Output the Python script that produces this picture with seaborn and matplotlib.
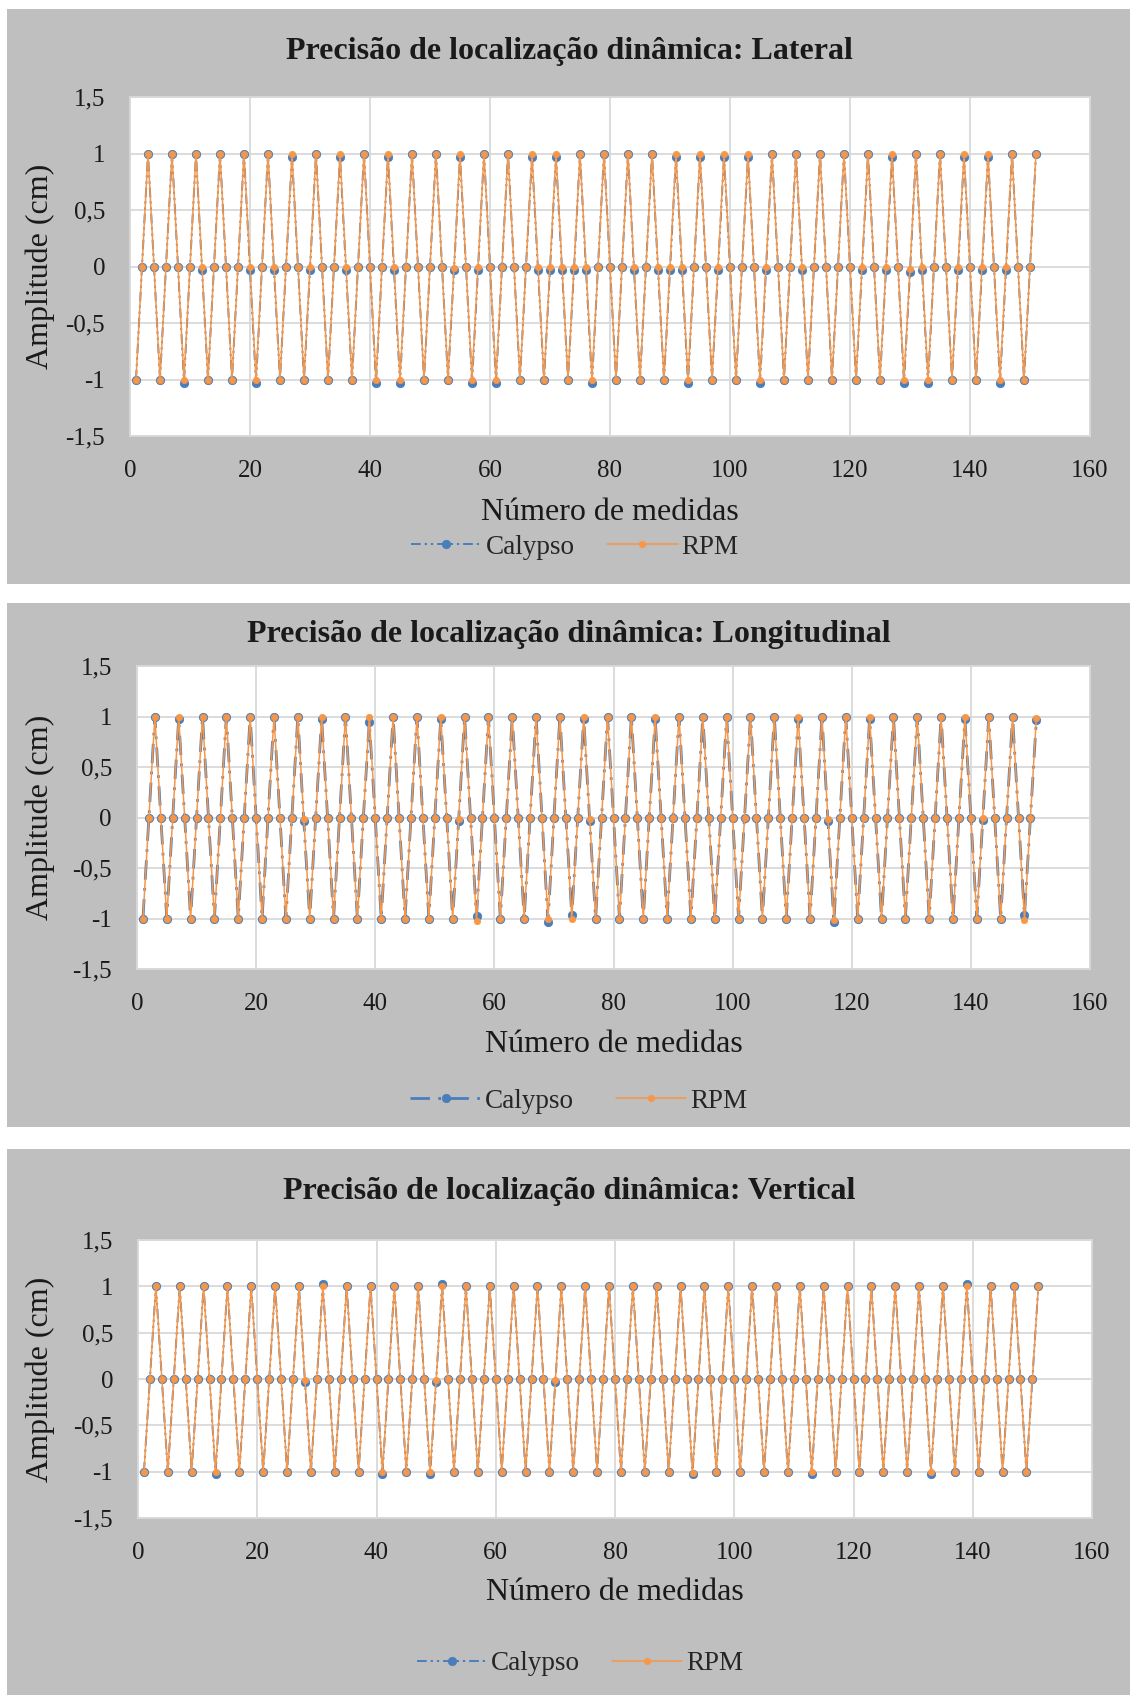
import numpy as np
import pandas as pd
import matplotlib
matplotlib.use('Agg')
import matplotlib.pyplot as plt
from matplotlib.patches import Rectangle
import seaborn as sns

# 数据：测量序号 1..151
medidas = list(range(1, 152))

lateral_calypso = [
    -1, 0, 1, 0, -1, 0, 1, 0, -1.03, 0, 1, -0.03, -1, 0, 1, 0, -1, 0, 1, -0.03,
    -1.03, 0, 1, -0.03, -1, 0, 0.97, 0, -1, -0.03, 1, 0, -1, 0, 0.97, -0.03, -1, 0, 1, 0,
    -1.03, 0, 0.97, -0.03, -1.03, 0, 1, 0, -1, 0, 1, 0, -1, -0.03, 0.97, 0, -1.03, -0.03, 1, 0,
    -1.03, 0, 1, 0, -1, 0, 0.97, -0.03, -1, -0.03, 0.97, -0.03, -1, -0.03, 1, -0.03, -1.03, 0, 1, 0,
    -1, 0, 1, -0.03, -1, 0, 1, -0.03, -1, -0.03, 0.97, -0.03, -1.03, 0, 0.97, 0, -1, -0.03, 0.97, 0,
    -1, 0, 0.97, 0, -1.03, -0.03, 1, 0, -1, 0, 1, -0.03, -1, 0, 1, 0, -1, 0, 1, 0,
    -1, -0.03, 1, 0, -1, -0.03, 0.97, 0, -1.03, -0.05, 1, -0.03, -1.03, 0, 1, 0, -1, -0.03, 0.97, 0,
    -1, -0.03, 0.97, 0, -1.03, -0.03, 1, 0, -1, 0, 1,
]
lateral_rpm = [
    -1, 0, 1, 0, -1, 0, 1, 0, -1, 0, 1, 0, -1, 0, 1, 0, -1, 0, 1, 0,
    -1, 0, 1, 0, -1, 0, 1, 0, -1, 0, 1, 0, -1, 0, 1, 0, -1, 0, 1, 0,
    -1, 0, 1, 0, -1, 0, 1, 0, -1, 0, 1, 0, -1, -0.01, 1, 0, -1, 0, 1, 0,
    -1, 0, 1, 0, -1, 0, 1, 0, -1, 0, 1, 0, -1, 0, 1, 0, -1, 0, 1, 0,
    -1, 0, 1, 0, -1, 0, 1, 0, -1, 0, 1, 0, -1, 0, 1, 0, -1, 0, 1, 0,
    -1, 0, 1, 0, -1, 0, 1, 0, -1, 0, 1, 0, -1, 0, 1, 0, -1, 0, 1, 0,
    -1, 0, 1, 0, -1, 0, 1, 0, -1, -0.02, 1, 0, -1, 0, 1, 0, -1, 0, 1, 0,
    -1, 0, 1, 0, -1, 0, 1, 0, -1, 0, 1,
]

longitudinal_calypso = [
    -1, 0, 1, 0, -1, 0, 0.98, 0, -1, 0, 1, 0, -1, 0, 1, 0, -1, 0, 1, 0,
    -1, 0, 1, 0, -1, 0, 1, -0.03, -1, 0, 0.98, 0, -1, 0, 1, 0, -1, 0, 0.95, 0,
    -1, 0, 1, 0, -1, 0, 1, 0, -1, 0, 0.98, 0, -1, -0.03, 1, 0, -0.98, 0, 1, 0,
    -1, 0, 1, 0, -1, 0, 1, 0, -1.03, 0, 1, 0, -0.97, 0, 0.98, -0.03, -1, 0, 1, 0,
    -1, 0, 1, 0, -1, 0, 0.98, 0, -1, 0, 1, 0, -1, 0, 1, 0, -1, 0, 1, 0,
    -1, 0, 1, 0, -1, 0, 1, 0, -1, 0, 0.98, 0, -1, 0, 1, -0.03, -1.03, 0, 1, 0,
    -1, 0, 0.98, 0, -1, 0, 1, 0, -1, 0, 1, 0, -1, 0, 1, 0, -1, 0, 0.98, 0,
    -1, -0.02, 1, 0, -1, 0, 1, 0, -0.97, 0, 0.97,
]
longitudinal_rpm = [
    -1, 0, 1, 0, -1, 0, 1, 0, -1, 0, 1, 0, -1, 0, 1, 0, -1, 0, 1, 0,
    -1, 0, 1, 0, -1, 0, 1, -0.01, -1, 0, 1, 0, -1, 0, 1, 0, -1, 0, 1, 0,
    -1, 0, 1, 0, -1, 0, 1, 0, -1, 0, 1, 0, -1, -0.01, 1, 0, -1.02, 0, 1, 0,
    -1, 0, 1, 0, -1, 0, 1, 0, -1, 0, 1, 0, -1, 0, 1, -0.01, -1, 0, 1, 0,
    -1, 0, 1, 0, -1, 0, 1, 0, -1, 0, 1, 0, -1, 0, 1, 0, -1, 0, 1, 0,
    -1, 0, 1, 0, -1, 0, 1, 0, -1, 0, 1, 0, -1, 0, 1, -0.01, -1.01, 0, 1, 0,
    -1, 0, 1, 0, -1, 0, 1, 0, -1, 0, 1, 0, -1, 0, 1, 0, -1, 0, 1, 0,
    -1, 0, 1, 0, -1, 0, 1, 0, -1.01, 0, 0.99,
]

vertical_calypso = [
    -1, 0, 1, 0, -1, 0, 1, 0, -1, 0, 1, 0, -1.03, 0, 1, 0, -1, 0, 1, 0,
    -1, 0, 1, 0, -1, 0, 1, -0.03, -1, 0, 1.02, 0, -1, 0, 1, 0, -1, 0, 1, 0,
    -1.02, 0, 1, 0, -1, 0, 1, 0, -1.03, -0.03, 1.02, 0, -1, 0, 1, 0, -1, 0, 1, 0,
    -1, 0, 1, 0, -1, 0, 1, 0, -1, -0.03, 1, 0, -1, 0, 1, 0, -1, 0, 1, 0,
    -1, 0, 1, 0, -1, 0, 1, 0, -1, 0, 1, 0, -1.02, 0, 1, 0, -1, 0, 1, 0,
    -1, 0, 1, 0, -1, 0, 1, 0, -1, 0, 1, 0, -1.02, 0, 1, 0, -1, 0, 1, 0,
    -1, 0, 1, 0, -1, 0, 1, 0, -1, 0, 1, 0, -1.02, 0, 1, 0, -1, 0, 1.03, 0,
    -1, 0, 1, 0, -1, 0, 1, 0, -1, 0, 1,
]
vertical_rpm = [
    -1, 0, 1, 0, -1, 0, 1, 0, -1, 0, 1, 0, -1, 0, 1, 0, -1, 0, 1, 0,
    -1, 0, 1, 0, -1, 0, 1, -0.01, -1, 0, 1, 0, -1, 0, 1, 0, -1, 0, 1, 0,
    -1, 0, 1, 0, -1, 0, 1, 0, -1, -0.01, 1, 0, -1, 0, 1, 0, -1, 0, 1, 0,
    -1, 0, 1, 0, -1, 0, 1, 0, -1, -0.01, 1, 0, -1, 0, 1, 0, -1, 0, 1, 0,
    -1, 0, 1, 0, -1, 0, 1, 0, -1, 0, 1, 0, -1.01, 0, 1, 0, -1, 0, 1, 0,
    -1, 0, 1, 0, -1, 0, 1, 0, -1, 0, 1, 0, -1, 0, 1, 0, -1, 0, 1, 0,
    -1, 0, 1, 0, -1, 0, 1, 0, -1, 0, 1, 0, -1, 0, 1, 0, -1, 0, 1, 0,
    -1, 0, 1, 0, -1, 0, 1, 0, -1, 0, 1,
]

titulos = ['Precisão de localização dinâmica: Lateral',
           'Precisão de localização dinâmica: Longitudinal',
           'Precisão de localização dinâmica: Vertical']
x_ticks = [0, 20, 40, 60, 80, 100, 120, 140, 160]
y_ticks = [-1.5, -1, -0.5, 0, 0.5, 1, 1.5]
y_tick_labels = ['-1,5', '-1', '-0,5', '0', '0,5', '1', '1,5']

W, H = 1130, 1695
FUNDO = '#BFBFBF'
AZUL = '#4A7EBB'
LARANJA = '#F79646'
GRADE = '#D9D9D9'

# 每个面板的像素布局 (灰框 y0, y1, 绘图区 左, 右, 上, 下, 标题 y, x标签 y, 图例 x/y/列间距)
paineis = [
    dict(box=(9, 584), ax=(130, 1090, 97, 436), title=51, xlab=513, leg=(575, 547, 1.2),
         calypso=lateral_calypso, rpm=lateral_rpm, ls=(0, (5, 2, 1.2, 2, 1.2, 2)), lw=1.4),
    dict(box=(603, 1127), ax=(137, 1090, 666, 969), title=634, xlab=1045, leg=(579, 1101, 1.55),
         calypso=longitudinal_calypso, rpm=longitudinal_rpm, ls=(0, (7, 3, 1, 3)), lw=2.0),
    dict(box=(1149, 1695), ax=(138, 1092, 1240, 1518), title=1192, xlab=1592, leg=(580, 1664, 1.15),
         calypso=vertical_calypso, rpm=vertical_rpm, ls=(0, (5, 2, 1.2, 2, 1.2, 2)), lw=1.4),
]

sns.set_theme(style='white')
plt.rcParams['font.family'] = ['Liberation Serif', 'DejaVu Serif']

fig = plt.figure(figsize=(W / 100, H / 100), dpi=100)
fig.patch.set_facecolor('white')

for i, p in enumerate(paineis):
    y0, y1 = p['box']
    fig.patches.append(Rectangle((7 / W, 1 - y1 / H), (W - 7) / W, (y1 - y0) / H,
                                 transform=fig.transFigure, facecolor=FUNDO,
                                 edgecolor='none', zorder=-10))
    l, r, t, b = p['ax']
    ax = fig.add_axes([l / W, 1 - b / H, (r - l) / W, (b - t) / H])
    ax.set_zorder(1)
    ax.set_facecolor('white')

    df = pd.DataFrame({'medida': medidas, 'Calypso': p['calypso'], 'RPM': p['rpm']})

    sns.lineplot(data=df, x='medida', y='Calypso', ax=ax, color=AZUL,
                 linestyle=p['ls'], linewidth=p['lw'], marker='o', markersize=6,
                 markeredgecolor=AZUL, markeredgewidth=0.6, label='Calypso', zorder=3)
    sns.lineplot(data=df, x='medida', y='RPM', ax=ax, color=LARANJA,
                 linewidth=1.1, marker='o', markersize=4.6,
                 markeredgecolor=LARANJA, markeredgewidth=0.5, label='RPM', zorder=4)

    ax.set_xlim(0, 160)
    ax.set_ylim(-1.5, 1.5)
    ax.set_xticks(x_ticks)
    ax.set_yticks(y_ticks)
    ax.set_yticklabels(y_tick_labels)
    ax.grid(True, color=GRADE, linewidth=1.3)
    for s in ax.spines.values():
        s.set_color(GRADE)
        s.set_linewidth(1.3)
    ax.tick_params(axis='both', length=0, labelsize=18, colors='#1a1a1a')
    ax.tick_params(axis='y', pad=18)
    ax.tick_params(axis='x', pad=17)

    ax.set_xlabel('Número de medidas', fontsize=23, color='#1a1a1a')
    ax.set_ylabel('Amplitude (cm)', fontsize=23, color='#1a1a1a')
    ax.xaxis.set_label_coords(0.5, -(p['xlab'] - b) / (b - t))
    ax.xaxis.label.set_verticalalignment('center')
    ax.yaxis.set_label_coords(-(l - 40) / (r - l), 0.5)
    ax.yaxis.label.set_verticalalignment('center')

    fig.text(569 / W, 1 - p['title'] / H, titulos[i], ha='center', va='center',
             fontsize=23, fontweight='bold', color='#1a1a1a')

    lx, ly, cs = p['leg']
    ax.legend(loc='center', bbox_to_anchor=(lx / W, 1 - ly / H),
              bbox_transform=fig.transFigure, ncol=2, frameon=False,
              fontsize=19.5, handlelength=2.6, columnspacing=cs, handletextpad=0.15)

fig.savefig('out.png', dpi=100, facecolor='white')
